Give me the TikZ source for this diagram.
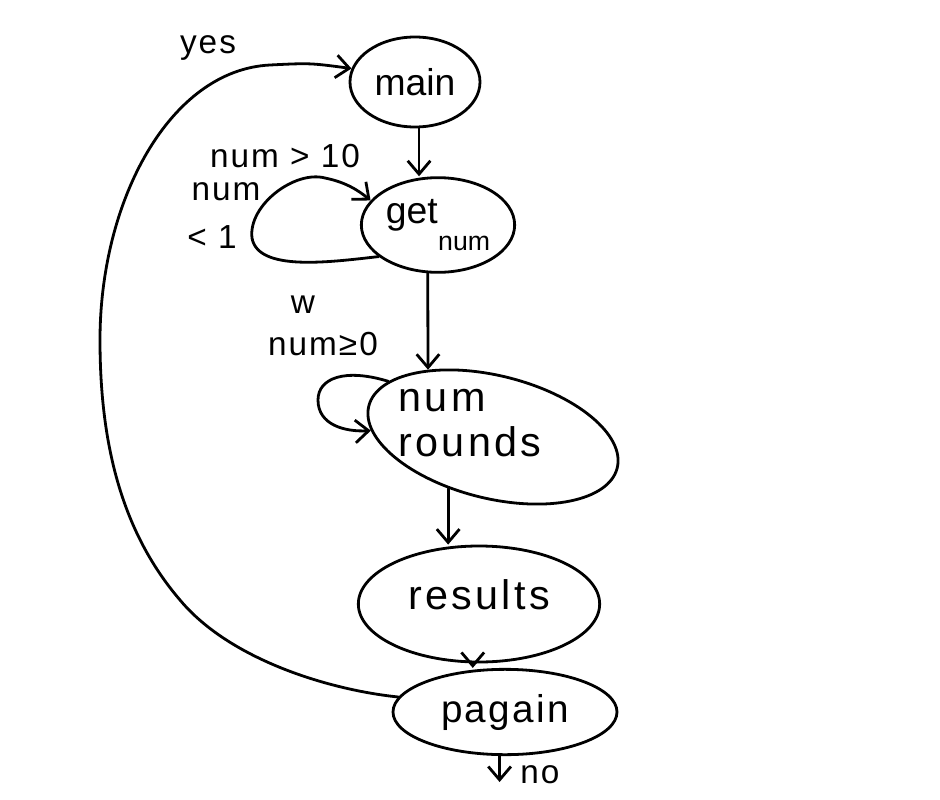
\documentclass[tikz,border=0pt]{standalone}
\usepackage{fontspec}
\setmainfont{Liberation Sans}
\usetikzlibrary{shapes.geometric,arrows.meta}
\begin{document}
\begin{tikzpicture}[x=0.75pt,y=-0.75pt,
  line width=2.1pt, line cap=round, line join=round,
  st/.style={ellipse,draw,inner sep=0pt,font=\fontsize{28}{30}\selectfont},
  txt/.style={inner sep=0pt,font=\fontsize{31}{34}\selectfont\addfontfeatures{LetterSpace=8},align=left},
  lbl/.style={font=\fontsize{25}{27}\selectfont\addfontfeatures{LetterSpace=6},inner sep=0pt},
  arr/.style={-{Straight Barb[length=10pt,width=17pt,line width=2.1pt]}}]
\useasboundingbox (0,0) rectangle (940,800);
% states
\node[st,minimum width=97.5pt,minimum height=67.5pt] (mn) at (415,82) {main};
\node[st,minimum width=115pt,minimum height=71pt,align=left] (gn) at (438,225)
  {get\\[-10pt]\hspace*{1.4em}{\fontsize{20}{22}\selectfont num}};
\node[ellipse,draw,inner sep=0pt,minimum width=192pt,minimum height=92pt,rotate=-14] (nr) at (493,437) {};
\node[txt] (nrt) at (470,423) {num\\rounds};
\node[st,minimum width=181pt,minimum height=87pt,font=\fontsize{31}{33}\selectfont\addfontfeatures{LetterSpace=8}] (rs) at (479,604) {\raisebox{14pt}{results}};
\node[st,minimum width=168pt,minimum height=64pt,font=\fontsize{29}{31}\selectfont\addfontfeatures{LetterSpace=6}] (pa) at (505,712) {pagain};
% straight transitions
\draw[arr] (mn.-85) -- (mn.-85 |- gn.north);
\draw[arr] (gn.-102) -- (nr.148);
\draw[arr] (nr.-117) -- (nr.-117 |- rs.north);
\draw[arr] (rs.-96) -- (rs.-96 |- pa.north);
\coordinate (noend) at (493,782);
\draw[arr] (pa.-97) -- (pa.-97 |- noend);
\node[lbl] (no) at (540,775) {no};
% yes loop back
\draw[arr] (pa.172) .. controls (330,690) and (230,660) .. (180,600)
  .. controls (120,530) and (100,440) .. (100,340)
  .. controls (100,200) and (170,70) .. (270,65) .. controls (310,63) .. (mn.168);
\node[lbl] (yes) at (208,48) {yes};
% get num self loop
\draw[arr] (gn.208) .. controls (330,262) and (258,272) .. (252,238)
  .. controls (248,205) and (295,170) .. (325,178) .. controls (345,182) and (358,190) .. (gn.160);
\node[lbl] (l1) at (285,156) {num > 10};
\node[lbl] (l2) at (226,192) {num};
\node[lbl] (l3) at (212,237) {< 1};
% num rounds self loop
\draw[arr] (nr.166) .. controls (345,368) and (318,378) .. (318,400)
  .. controls (318,425) and (345,432) .. (nr.191);
\node[lbl] (l4) at (303,305) {w};
\node[lbl] (l5) at (323,344) {num≥0};
\end{tikzpicture}
\end{document}
